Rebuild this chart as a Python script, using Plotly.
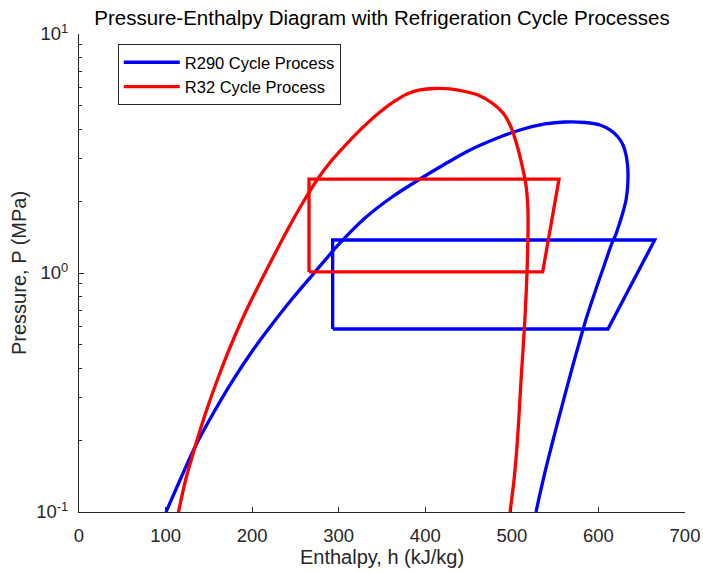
import plotly.graph_objects as go

# R290 saturation dome (liquid -> critical -> vapor)
r290_dome_h = [100.5, 116.7, 134.0, 155.9, 177.9, 201.0, 220.6, 246.0, 272.6, 301.5, 330.4,
               361.6, 393.9, 422.8, 451.7, 480.5, 509.4, 538.3, 561.4, 584.5, 601.8, 613.4,
               622.6, 628.4, 631.9, 633.6, 634.2, 633.6, 631.9, 628.4, 623.8, 620.3, 615.7,
               606.4, 596.0, 586.8, 578.7, 570.6, 562.5, 554.5, 546.4, 538.3, 531.4, 527.9]
r290_dome_p = [0.100, 0.1361, 0.1871, 0.2621, 0.3566, 0.4763, 0.5942, 0.7785, 1.0097, 1.3355, 1.699,
               2.080, 2.474, 2.858, 3.270, 3.636, 3.966, 4.202, 4.283, 4.263, 4.162, 3.966,
               3.707, 3.432, 3.117, 2.830, 2.570, 2.268, 2.021, 1.800, 1.588, 1.456, 1.3355,
               1.070, 0.8324, 0.6607, 0.5244, 0.4122, 0.3208, 0.2497, 0.1925, 0.1470, 0.1145, 0.100]

# R32 saturation dome
r32_dome_h = [114.9, 123.6, 134.0, 145.5, 160.6, 179.0, 197.5, 216.0, 243.7, 261.1, 274.9,
              289.9, 307.3, 326.9, 347.7, 365.0, 378.9, 393.9, 411.2, 428.5, 445.9, 460.9,
              477.1, 489.8, 499.0, 505.9, 511.7, 516.3, 518.6, 518.6, 517.5, 515.2, 512.9,
              510.6, 508.3, 505.9, 502.5, 497.9]
r32_dome_p = [0.100, 0.1381, 0.1871, 0.2546, 0.3636, 0.5346, 0.7505, 1.0195, 1.585, 2.040, 2.449,
              2.900, 3.410, 4.036, 4.718, 5.245, 5.610, 5.831, 5.916, 5.888, 5.747, 5.556,
              5.144, 4.673, 4.082, 3.433, 2.830, 2.334, 1.835, 1.442, 1.000, 0.6545, 0.4763,
              0.3566, 0.2546, 0.1871, 0.1361, 0.100]

# Cycle processes
r290_cycle_h = [293, 611, 665, 293, 293]
r290_cycle_p = [0.583, 0.583, 1.374, 1.374, 0.583]
r32_cycle_h = [265.7, 535.6, 554.5, 265.7, 265.7]
r32_cycle_p = [1.01, 1.01, 2.47, 2.47, 1.01]

x_ticks = [0, 100, 200, 300, 400, 500, 600, 700]
y_ticks = [0.1, 1, 10]
y_ticktext = ["10<sup>-1</sup>", "10<sup>0</sup>", "10<sup>1</sup>"]
y_minor = [0.2, 0.3, 0.4, 0.5, 0.6, 0.7, 0.8, 0.9, 2, 3, 4, 5, 6, 7, 8, 9]

BLUE = "#0000ff"
RED = "#ff0000"
AX = "#262626"
LW = 3.3

fig = go.Figure()
fig.add_trace(go.Scatter(x=r290_dome_h, y=r290_dome_p, mode="lines", showlegend=False,
                         line=dict(color=BLUE, width=LW, shape="spline", smoothing=0.8)))
fig.add_trace(go.Scatter(x=r290_cycle_h, y=r290_cycle_p, mode="lines", name="R290 Cycle Process",
                         line=dict(color=BLUE, width=LW)))
fig.add_trace(go.Scatter(x=r32_dome_h, y=r32_dome_p, mode="lines", showlegend=False,
                         line=dict(color=RED, width=LW, shape="spline", smoothing=0.8)))
fig.add_trace(go.Scatter(x=r32_cycle_h, y=r32_cycle_p, mode="lines", name="R32 Cycle Process",
                         line=dict(color=RED, width=LW)))

fig.update_layout(
    width=703, height=573,
    margin=dict(l=79, r=18, t=34, b=61, autoexpand=False),
    paper_bgcolor="white", plot_bgcolor="white",
    font=dict(family="Liberation Sans, Arial, sans-serif", color=AX, size=16),
    title=dict(text="Pressure-Enthalpy Diagram with Refrigeration Cycle Processes",
               x=0.5, xref="paper", xanchor="center",
               y=1 - 18 / 573, yref="container", yanchor="middle",
               font=dict(size=20.5, color="black")),
    legend=dict(x=0.064, y=0.979, xanchor="left", yanchor="top",
                bordercolor=AX, borderwidth=1, bgcolor="white", itemwidth=56,
                font=dict(size=16.5, color="black"), tracegroupgap=0),
    xaxis=dict(range=[0, 700], tickmode="array", tickvals=x_ticks, automargin=False,
               ticks="inside", ticklen=5, tickcolor=AX, tickwidth=1,
               showline=True, linecolor=AX, linewidth=1, mirror=False,
               showgrid=False, zeroline=False, tickfont=dict(size=18.5, color=AX),
               ticklabelstandoff=7,
               title=dict(text="Enthalpy, h (kJ/kg)", font=dict(size=20, color=AX), standoff=3)),
    yaxis=dict(type="log", range=[-1, 1], tickmode="array", tickvals=y_ticks, ticktext=y_ticktext,
               automargin=False,
               ticks="inside", ticklen=5, tickcolor=AX, tickwidth=1,
               minor=dict(tickmode="array", tickvals=y_minor, ticks="inside", ticklen=3,
                          tickcolor=AX, showgrid=False),
               showline=True, linecolor=AX, linewidth=1, mirror=False,
               showgrid=False, zeroline=False, tickfont=dict(size=18.5, color=AX),
               ticklabelstandoff=6),
    annotations=[dict(text="Pressure, P (MPa)", textangle=-90, showarrow=False,
                      xref="paper", yref="paper", x=(19 - 79) / 606, y=0.5,
                      xanchor="center", yanchor="middle",
                      font=dict(size=20, color=AX))],
)

fig.write_html("out.html")
